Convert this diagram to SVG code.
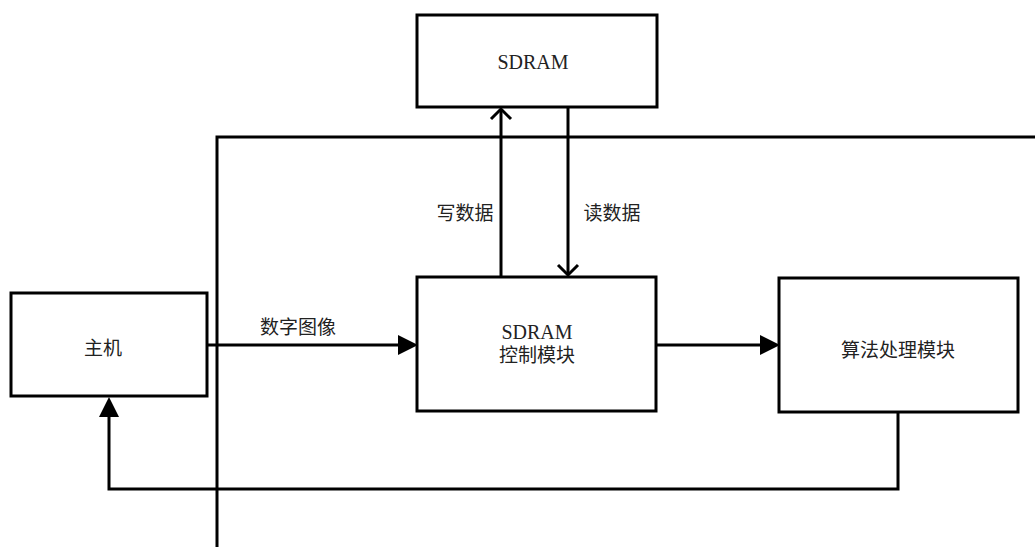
<svg xmlns="http://www.w3.org/2000/svg" width="1035" height="547" viewBox="0 0 1035 547">
<defs>
<style>
.box{fill:#fff;stroke:#000;stroke-width:3}
.ln{fill:none;stroke:#000;stroke-width:3}
.t{font-family:"Liberation Serif","Noto Sans CJK SC",serif;font-size:19px;fill:#222;text-anchor:middle}
</style>
</defs>
<rect width="1035" height="547" fill="#fff"/>
<g id="connectors">
<path class="ln" d="M217 547 V137 H1035"/>
<path class="ln" d="M207 345 H400"/>
<polygon points="418,345 398,335 398,355" fill="#000"/>
<path class="ln" d="M657 345 H762"/>
<polygon points="780,345 760,335 760,355" fill="#000"/>
<path class="ln" d="M898 412 V489 H109 V415"/>
<polygon points="109,397 99,417 119,417" fill="#000"/>
<path class="ln" d="M501 277 V109"/>
<path class="ln" d="M491 119 L501 109 L511 119"/>
<path class="ln" d="M568 107 V275"/>
<path class="ln" d="M558 265 L568 275 L578 265"/>
<text class="t" x="465" y="220">写数据</text>
<text class="t" x="612" y="220">读数据</text>
<text class="t" x="298" y="334">数字图像</text>
</g>
<g id="sdram">
<rect class="box" x="417" y="15" width="240" height="92"/>
<text class="t" x="533" y="69" style="font-size:20px">SDRAM</text>
</g>
<g id="host">
<rect class="box" x="11" y="293" width="196" height="103"/>
<text class="t" x="103" y="355">主机</text>
</g>
<g id="ctrl">
<rect class="box" x="417" y="277" width="239" height="134"/>
<text class="t" x="537" y="339" style="font-size:20px">SDRAM</text>
<text class="t" x="537" y="362">控制模块</text>
</g>
<g id="algo">
<rect class="box" x="779" y="278" width="239" height="134"/>
<text class="t" x="898" y="357">算法处理模块</text>
</g>
</svg>
